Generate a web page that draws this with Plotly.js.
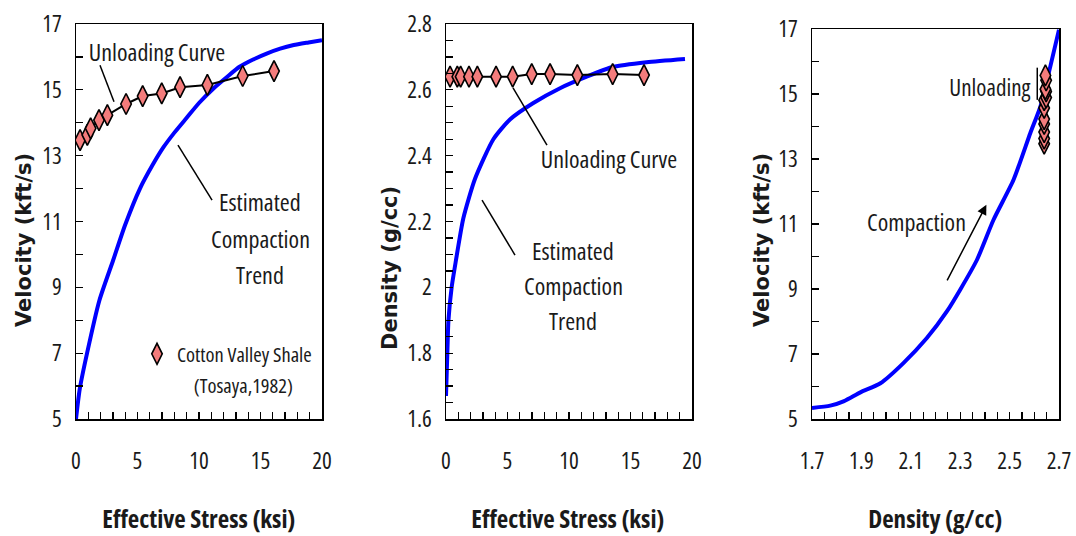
<!DOCTYPE html>
<html>
<head>
<meta charset="utf-8">
<script src="https://cdn.plot.ly/plotly-3.0.1.min.js"></script>
<style>
html,body{margin:0;padding:0;background:#fff;}
#chart{width:1076px;height:536px;}
#chart text[style*="Open Sans"] { font-stretch: 75%; }
</style>
</head>
<body>
<div id="chart"></div>
<script>
// ---- data ----
// Unloading data (Cotton Valley Shale, Tosaya 1982)
const unloadStress   = [0.33, 0.92, 1.19, 1.87, 2.55, 4.07, 5.42, 6.97, 8.46, 10.68, 13.55, 16.1];
const unloadVelocity = [13.47, 13.63, 13.83, 14.08, 14.23, 14.57, 14.81, 14.89, 15.08, 15.15, 15.42, 15.57];
const unloadDensity  = [2.64, 2.64, 2.64, 2.64, 2.64, 2.64, 2.64, 2.648, 2.648, 2.645, 2.648, 2.645];

// Estimated compaction trend: velocity vs effective stress
const trendStressV = [0, 0.3, 0.9, 1.9, 3.0, 4.0, 5.2, 6.2, 7.1, 8.0, 9.0, 10.0, 11.2, 12.3, 13.3, 14.4, 15.5, 16.6, 17.7, 18.9, 20];
const trendVelocity = [5.0, 5.9, 7.0, 8.6, 9.8, 10.9, 12.0, 12.7, 13.25, 13.7, 14.15, 14.6, 15.05, 15.4, 15.7, 15.92, 16.1, 16.25, 16.36, 16.44, 16.51];

// Estimated compaction trend: density vs effective stress
const trendStressD = [0, 0.1, 0.2, 0.46, 0.8, 1.41, 2.36, 3.85, 5.2, 7.1, 9.27, 11.44, 13.6, 16.3, 19.43];
const trendDensity = [1.67, 1.79, 1.90, 2.0, 2.08, 2.21, 2.33, 2.45, 2.51, 2.56, 2.605, 2.64, 2.67, 2.684, 2.694];

// Compaction trend: velocity vs density
const cvDensity  = [1.70, 1.774, 1.83, 1.896, 1.977, 2.07, 2.165, 2.246, 2.30, 2.368, 2.435, 2.516, 2.584, 2.625, 2.665, 2.70];
const cvVelocity = [5.34, 5.41, 5.55, 5.82, 6.1, 6.72, 7.49, 8.31, 8.98, 9.9, 11.13, 12.36, 13.8, 14.62, 15.85, 16.98];

const legendName = 'Cotton Valley Shale';
const legendSource = '(Tosaya,1982)';

// ---- styling ----
const W = 1076, H = 536;
const NARROW = '"Open Sans", "Liberation Sans", Arial, sans-serif';
const BOLD = '"DejaVu Sans", "Liberation Sans", Arial, sans-serif';
const txtColor = '#1a1a1a';
const blue = '#0000ff';
const salmon = '#f47c7c';

function dx(a, b) { return [a / W, b / W]; }
function dy(top, bottom) { return [1 - bottom / H, 1 - top / H]; }

const markerStyle = {symbol: 'diamond-tall', size: 15, color: salmon, line: {color: '#000', width: 1.6}};
const blueLine = {color: blue, width: 4, shape: 'spline', smoothing: 0.6};

const traces = [
  // panel 1
  {x: trendStressV, y: trendVelocity, xaxis: 'x', yaxis: 'y', mode: 'lines', line: blueLine, showlegend: false},
  {x: unloadStress, y: unloadVelocity, xaxis: 'x', yaxis: 'y', mode: 'lines',
   line: {color: '#000', width: 2}, showlegend: false},
  {x: unloadStress, y: unloadVelocity, xaxis: 'x', yaxis: 'y', mode: 'markers',
   marker: markerStyle, name: legendName, showlegend: true},
  // panel 2
  {x: trendStressD, y: trendDensity, xaxis: 'x2', yaxis: 'y2', mode: 'lines', line: blueLine, showlegend: false},
  {x: unloadStress, y: unloadDensity, xaxis: 'x2', yaxis: 'y2', mode: 'lines',
   line: {color: '#000', width: 2}, showlegend: false},
  {x: unloadStress, y: unloadDensity, xaxis: 'x2', yaxis: 'y2', mode: 'markers',
   marker: markerStyle, showlegend: false},
  // panel 3
  {x: cvDensity, y: cvVelocity, xaxis: 'x3', yaxis: 'y3', mode: 'lines', line: blueLine, showlegend: false},
  {x: unloadDensity, y: unloadVelocity, xaxis: 'x3', yaxis: 'y3', mode: 'lines',
   line: {color: '#000', width: 2}, showlegend: false},
  {x: unloadDensity, y: unloadVelocity, xaxis: 'x3', yaxis: 'y3', mode: 'markers',
   marker: markerStyle, showlegend: false}
];

function axis(domain, range, tick0, dtick, minor, anchor, isX) {
  return {
    domain: domain, range: range, anchor: anchor,
    showline: true, mirror: true, linecolor: '#000', linewidth: 1.5,
    showgrid: false, zeroline: false,
    ticks: 'inside', ticklen: 7, tickwidth: 1.3, tickcolor: '#000',
    tick0: tick0, dtick: dtick,
    minor: {dtick: minor, ticks: 'inside', ticklen: 7, tickwidth: 1.3, tickcolor: '#000', showgrid: false},
    tickfont: {family: NARROW, size: 23, color: txtColor},
    ticklabelstandoff: isX ? 21 : 8,
    fixedrange: true
  };
}

const y12 = dy(24, 419);
const y3 = dy(29, 419);

function note(text, x, y, ref, size) {
  return {text: text, x: x, y: y, xref: 'x' + ref, yref: 'y' + ref, showarrow: false,
          xanchor: 'center', yanchor: 'middle',
          font: {family: NARROW, size: size || 24, color: txtColor}};
}
function ptitle(text, px, py, rot, fam, size) {
  return {text: '<b>' + text + '</b>', x: px / W, y: 1 - py / H, xref: 'paper', yref: 'paper',
          showarrow: false, textangle: rot, xanchor: 'center', yanchor: 'middle',
          font: {family: fam, size: size, color: txtColor}};
}
function seg(x0, y0, x1, y1, ref) {
  return {type: 'line', xref: 'x' + ref, yref: 'y' + ref, x0: x0, y0: y0, x1: x1, y1: y1,
          line: {color: '#000', width: 1.5}};
}

const layout = {
  width: W, height: H,
  margin: {l: 0, r: 0, t: 0, b: 0},
  paper_bgcolor: '#fff', plot_bgcolor: '#fff',
  xaxis: axis(dx(76, 322), [0, 20], 0, 5, 1, 'y', true),
  yaxis: axis(y12, [5, 17], 5, 2, 1, 'x', false),
  xaxis2: axis(dx(446, 692), [0, 20], 0, 5, 1, 'y2', true),
  yaxis2: axis(y12, [1.6, 2.8], 1.6, 0.2, 0.05, 'x2', false),
  xaxis3: axis(dx(812, 1059), [1.7, 2.7], 1.7, 0.2, 0.05, 'y3', true),
  yaxis3: axis(y3, [5, 17], 5, 2, 1, 'x3', false),
  showlegend: true,
  legend: {x: 137 / W, y: 1 - 354 / H, xanchor: 'left', yanchor: 'middle',
           bgcolor: 'rgba(0,0,0,0)', itemwidth: 30,
           font: {family: NARROW, size: 20.5, color: txtColor}},
  annotations: [
    // panel 1
    note('Unloading Curve', 6.59, 16.15, ''),
    note('Estimated', 14.96, 11.6, ''),
    note('Compaction', 14.96, 10.47, ''),
    note('Trend', 14.96, 9.4, ''),
    {text: legendSource, x: 243 / W, y: 1 - 385 / H, xref: 'paper', yref: 'paper', showarrow: false,
     xanchor: 'center', yanchor: 'middle', font: {family: NARROW, size: 20.5, color: txtColor}},
    // panel 2
    note('Unloading Curve', 13.29, 2.39, '2'),
    note('Estimated', 10.35, 2.113, '2'),
    note('Compaction', 10.35, 2.007, '2'),
    note('Trend', 10.35, 1.9, '2'),
    // panel 3
    note('Unloading', 2.422, 15.22, '3', 23),
    note('Compaction', 2.122, 11.07, '3'),
    {text: '', x: 2.406, y: 11.59, ax: 2.244, ay: 9.22, xref: 'x3', yref: 'y3', axref: 'x3', ayref: 'y3',
     showarrow: true, arrowhead: 2, arrowsize: 1.3, arrowwidth: 1.5, arrowcolor: '#000'},
    // axis titles
    ptitle('Velocity (kft/s)', 24, 240, -90, BOLD, 21),
    ptitle('Density (g/cc)', 390, 268, -90, BOLD, 21),
    ptitle('Velocity (kft/s)', 762, 240, -90, BOLD, 21),
    ptitle('Effective Stress (ksi)', 199, 518, 0, NARROW, 25),
    ptitle('Effective Stress (ksi)', 568, 518, 0, NARROW, 25),
    ptitle('Density (g/cc)', 935, 518, 0, NARROW, 25)
  ],
  shapes: [
    seg(1.95, 15.75, 3.09, 14.64, ''),
    seg(8.29, 13.32, 11.06, 11.65, ''),
    seg(5.45, 2.606, 8.21, 2.432, '2'),
    seg(2.93, 2.265, 5.61, 2.098, '2'),
    seg(2.612, 15.81, 2.612, 14.82, '3')
  ]
};

Plotly.newPlot('chart', traces, layout, {displayModeBar: false, staticPlot: true});
</script>
</body>
</html>
